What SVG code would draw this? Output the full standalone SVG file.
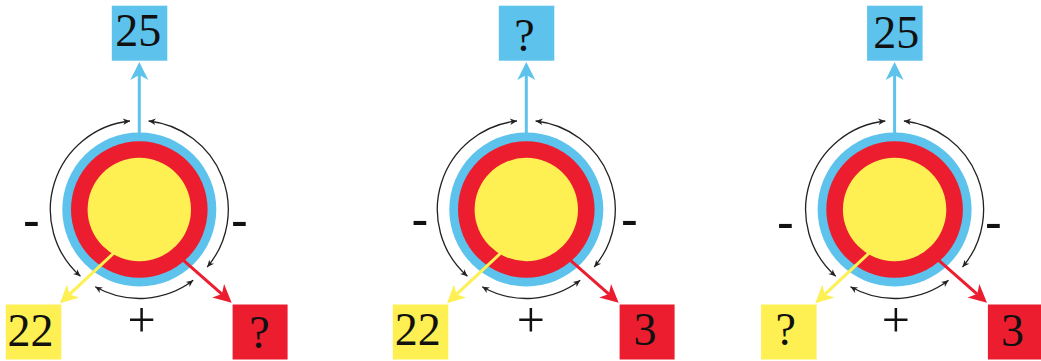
<svg xmlns="http://www.w3.org/2000/svg" width="1041" height="361" viewBox="0 0 1041 361">
<style>
.bg{fill:#ffffff}
.blue{fill:#5DC3EC}
.red{fill:#EC1D2F}
.yellow{fill:#FEF052}
.num{font-size:46px;fill:#111;text-anchor:middle}
.plus{font-size:50px;fill:#111;text-anchor:middle}
.dash{font-size:52px;fill:#111;text-anchor:middle}
.lb{stroke:#5DC3EC;stroke-width:3;fill:none}
.ly{stroke:#FEF052;stroke-width:3;fill:none}
.lr{stroke:#EC1D2F;stroke-width:3;fill:none}
.arc{stroke:#222;stroke-width:1.3;fill:none}
</style>
<defs>
<marker id="hb" viewBox="-20 -10 22 20" markerWidth="22" markerHeight="20" refX="-13" refY="0" orient="auto" markerUnits="userSpaceOnUse"><path d="M0,0 L-18,-9 L-13,0 L-18,9 Z" fill="#5DC3EC"/></marker>
<marker id="hy" viewBox="-20 -10 22 20" markerWidth="22" markerHeight="20" refX="-13" refY="0" orient="auto" markerUnits="userSpaceOnUse"><path d="M0,0 L-18,-9 L-13,0 L-18,9 Z" fill="#FEF052"/></marker>
<marker id="hr" viewBox="-20 -10 22 20" markerWidth="22" markerHeight="20" refX="-13" refY="0" orient="auto" markerUnits="userSpaceOnUse"><path d="M0,0 L-18,-9 L-13,0 L-18,9 Z" fill="#EC1D2F"/></marker>
<marker id="ha" viewBox="-8 -4 9 8" markerWidth="9" markerHeight="8" refX="0" refY="0" orient="auto-start-reverse" markerUnits="userSpaceOnUse"><path d="M0,0 L-7,-3.2 L-5,0 L-7,3.2 Z" fill="#222"/></marker>
<g id="ring">
<circle cx="0" cy="209.5" r="77" class="blue"/>
<circle cx="0" cy="209.5" r="68.3" class="red"/>
<circle cx="0" cy="209.5" r="51.7" class="yellow"/>
</g>
</defs>
<rect class="bg" x="0" y="0" width="1041" height="361"/>

<!-- Panel 1 -->
<g id="panel1" transform="translate(139.3,0)" font-family="'Liberation Serif', 'Times New Roman', serif">
<g id="p1-circle"><use href="#ring"/></g>
<g id="p1-top"><rect class="blue" x="-27.5" y="5.7" width="55.5" height="55"/><text class="num" x="-1" y="46">25</text></g>
<g id="p1-yellow"><rect class="yellow" x="-133.5" y="304.5" width="55.5" height="55"/><text class="num" x="-108.8" y="346">22</text></g>
<g id="p1-red"><rect class="red" x="93.3" y="304.5" width="55" height="55"/><text class="num" x="120.2" y="348">?</text></g>
<g id="p1-signs"><text class="dash" font-family="'Liberation Sans', Arial, sans-serif" x="-107.9" y="237.5">-</text><text class="dash" font-family="'Liberation Sans', Arial, sans-serif" x="100.2" y="237.5">-</text><text class="plus" x="2.4" y="337">+</text></g>
<g id="p1-connectors">
<path class="lb" d="M0,133 L0,75" marker-end="url(#hb)"/>
<path class="ly" d="M-23.2,250.9 L-69.8,294.4" marker-end="url(#hy)"/>
<path class="lr" d="M38.2,255.1 L82.6,294.1" marker-end="url(#hr)"/>
<path class="arc" d="M9.3,121 A89,89 0 0 1 67.88,267.07" marker-start="url(#ha)" marker-end="url(#ha)"/>
<path class="arc" d="M53.93,280.3 A89,89 0 0 1 -44.1,286.81" marker-start="url(#ha)" marker-end="url(#ha)"/>
<path class="arc" d="M-58.86,276.26 A89,89 0 0 1 -9.3,121" marker-start="url(#ha)" marker-end="url(#ha)"/>
</g>
</g>

<!-- Panel 2 -->
<g id="panel2" transform="translate(526.3,0)" font-family="'Liberation Serif', 'Times New Roman', serif">
<g id="p2-circle"><use href="#ring"/></g>
<g id="p2-top"><rect class="blue" x="-27.5" y="5.7" width="55.5" height="55"/><text class="num" x="-1.8" y="51">?</text></g>
<g id="p2-yellow"><rect class="yellow" x="-133.5" y="304.5" width="55.5" height="55"/><text class="num" x="-108.5" y="345">22</text></g>
<g id="p2-red"><rect class="red" x="93.3" y="304.5" width="55" height="55"/><text class="num" x="118.7" y="345">3</text></g>
<g id="p2-signs"><text class="dash" font-family="'Liberation Sans', Arial, sans-serif" x="-106.3" y="237">-</text><text class="dash" font-family="'Liberation Sans', Arial, sans-serif" x="103.2" y="237">-</text><text class="plus" x="4.5" y="337">+</text></g>
<g id="p2-connectors">
<path class="lb" d="M0,133 L0,75" marker-end="url(#hb)"/>
<path class="ly" d="M-23.2,250.9 L-69.8,294.4" marker-end="url(#hy)"/>
<path class="lr" d="M38.2,255.1 L82.6,294.1" marker-end="url(#hr)"/>
<path class="arc" d="M9.3,121 A89,89 0 0 1 67.88,267.07" marker-start="url(#ha)" marker-end="url(#ha)"/>
<path class="arc" d="M53.93,280.3 A89,89 0 0 1 -44.1,286.81" marker-start="url(#ha)" marker-end="url(#ha)"/>
<path class="arc" d="M-58.86,276.26 A89,89 0 0 1 -9.3,121" marker-start="url(#ha)" marker-end="url(#ha)"/>
</g>
</g>

<!-- Panel 3 -->
<g id="panel3" transform="translate(894.6,0)" font-family="'Liberation Serif', 'Times New Roman', serif">
<g id="p3-circle"><use href="#ring"/></g>
<g id="p3-top"><rect class="blue" x="-27.5" y="5.7" width="55.5" height="55"/><text class="num" x="1.7" y="48">25</text></g>
<g id="p3-yellow"><rect class="yellow" x="-133.5" y="304.5" width="55.5" height="55"/><text class="num" x="-108.9" y="345">?</text></g>
<g id="p3-red"><rect class="red" x="93.3" y="304.5" width="55" height="55"/><text class="num" x="117.9" y="346">3</text></g>
<g id="p3-signs"><text class="dash" font-family="'Liberation Sans', Arial, sans-serif" x="-109.1" y="240">-</text><text class="dash" font-family="'Liberation Sans', Arial, sans-serif" x="98.7" y="240">-</text><text class="plus" x="1.2" y="337">+</text></g>
<g id="p3-connectors">
<path class="lb" d="M0,133 L0,75" marker-end="url(#hb)"/>
<path class="ly" d="M-23.2,250.9 L-69.8,294.4" marker-end="url(#hy)"/>
<path class="lr" d="M38.2,255.1 L82.6,294.1" marker-end="url(#hr)"/>
<path class="arc" d="M9.3,121 A89,89 0 0 1 67.88,267.07" marker-start="url(#ha)" marker-end="url(#ha)"/>
<path class="arc" d="M53.93,280.3 A89,89 0 0 1 -44.1,286.81" marker-start="url(#ha)" marker-end="url(#ha)"/>
<path class="arc" d="M-58.86,276.26 A89,89 0 0 1 -9.3,121" marker-start="url(#ha)" marker-end="url(#ha)"/>
</g>
</g>
</svg>
